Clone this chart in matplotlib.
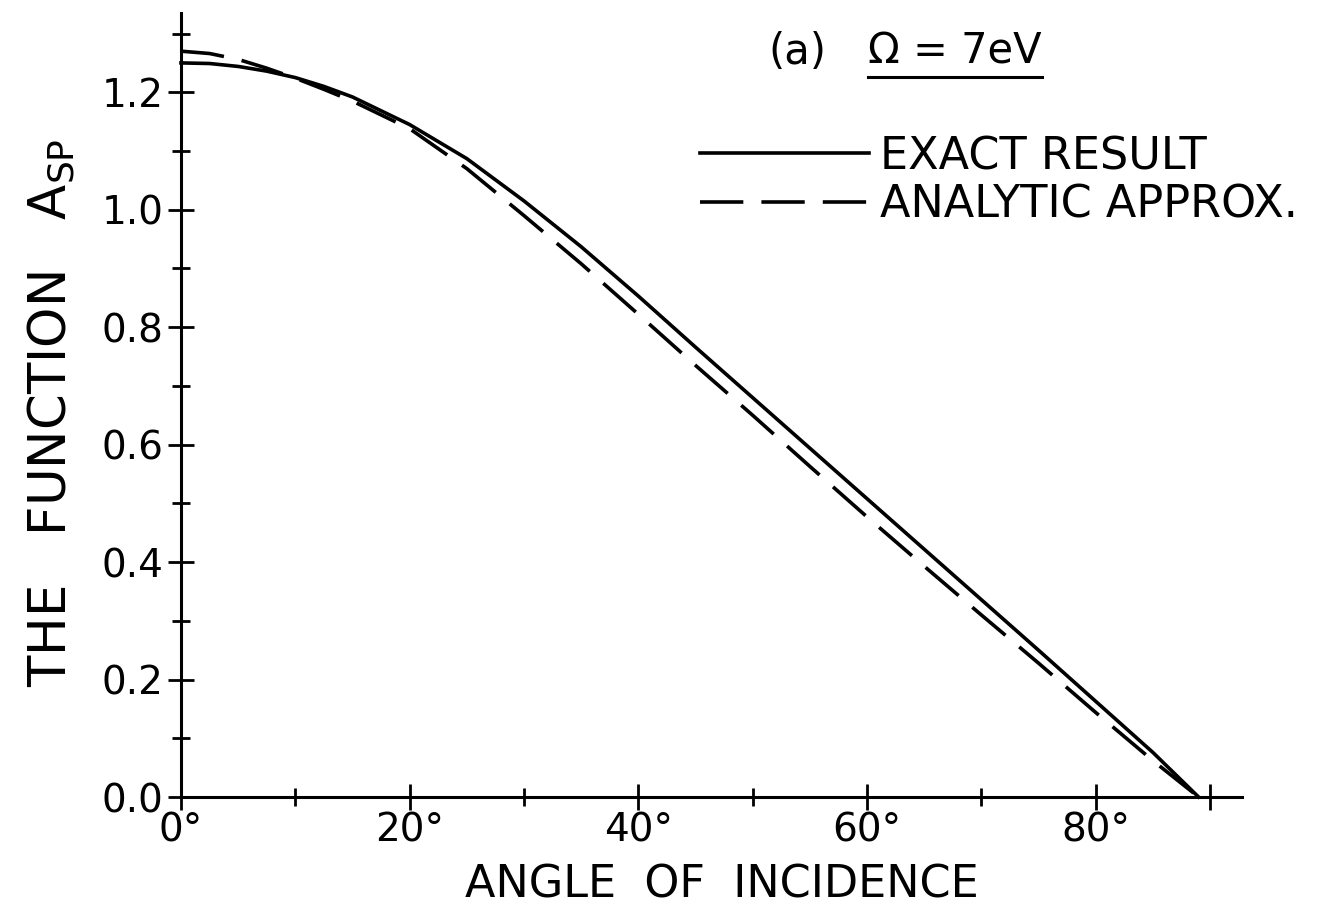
import matplotlib.pyplot as plt

# angle of incidence (deg) and A_sp values
angle = [0, 2.5, 5, 7.5, 10, 12.5, 15, 20, 25, 30, 35, 40, 45, 50, 55, 60, 65,
         70, 75, 80, 85, 89]
exact = [1.250, 1.249, 1.244, 1.236, 1.225, 1.210, 1.192, 1.145, 1.087, 1.015,
         0.937, 0.853, 0.766, 0.680, 0.594, 0.508, 0.422, 0.336, 0.250, 0.163,
         0.076, 0.0]
analytic = [1.270, 1.266, 1.256, 1.241, 1.224, 1.205, 1.185, 1.138, 1.070, 0.990,
            0.908, 0.822, 0.735, 0.650, 0.563, 0.477, 0.393, 0.310, 0.228, 0.144,
            0.062, 0.0]

xticks = [0, 20, 40, 60, 80, 90]
xlabels = ["0°", "20°", "40°", "60°", "80°", ""]
xminor = [10, 30, 50, 70]
yticks = [0.0, 0.2, 0.4, 0.6, 0.8, 1.0, 1.2]
yminor = [0.1, 0.3, 0.5, 0.7, 0.9, 1.1, 1.3]

plt.rcParams['font.family'] = ['DejaVu Sans']

fig = plt.figure(figsize=(13.22, 9.05), dpi=100)
ax = fig.add_axes([181/1322, 1 - 797/905, (1242 - 181)/1322, (797 - 13)/905])

ax.plot(angle, exact, color='black', lw=2.6, label='EXACT RESULT', clip_on=False)
ax.plot(angle, analytic, color='black', lw=2.6, dashes=(12, 5),
        label='ANALYTIC APPROX.', clip_on=False)

ax.set_xlim(0, 92.8)
ax.set_ylim(0, 1.335)
ax.spines['top'].set_visible(False)
ax.spines['right'].set_visible(False)
ax.spines['left'].set_linewidth(2.2)
ax.spines['bottom'].set_linewidth(2.2)

ax.set_xticks(xticks, xlabels)
ax.set_xticks(xminor, minor=True)
ax.set_yticks(yticks, ["%.1f" % v for v in yticks])
ax.set_yticks(yminor, minor=True)
ax.tick_params(which='major', direction='inout', length=19, width=2, labelsize=28)
ax.tick_params(which='minor', direction='inout', length=13, width=2)
ax.tick_params(axis='x', pad=1)
ax.tick_params(axis='y', pad=3)

ax.set_xlabel("ANGLE  OF  INCIDENCE", fontsize=32)
ax.xaxis.set_label_coords(0.51, -0.085)
ax.set_ylabel(r"THE   FUNCTION   A$_{\mathregular{SP}}$", fontsize=37)
ax.yaxis.set_label_coords(-0.098, 0.49)

leg = ax.legend(loc='upper left', bbox_to_anchor=(700/1322, 1 - 135/905),
                bbox_transform=fig.transFigure, frameon=False, fontsize=32,
                handlelength=3.8, handletextpad=0.25, labelspacing=0.12,
                borderpad=0, borderaxespad=0)
for h in leg.get_lines():
    h.set_linewidth(2.6)

fig.text(768/1322, 1 - 64/905, "(a)", fontsize=30, va='baseline')
om = fig.text(868/1322, 1 - 64/905, "Ω = 7eV", fontsize=30, va='baseline')

fig.canvas.draw()
bb = om.get_window_extent().transformed(fig.transFigure.inverted())
fig.add_artist(plt.Line2D([bb.x0, bb.x1], [bb.y0 - 0.004, bb.y0 - 0.004],
                          color='black', lw=2.2, transform=fig.transFigure))

fig.savefig("out.png", dpi=100)
